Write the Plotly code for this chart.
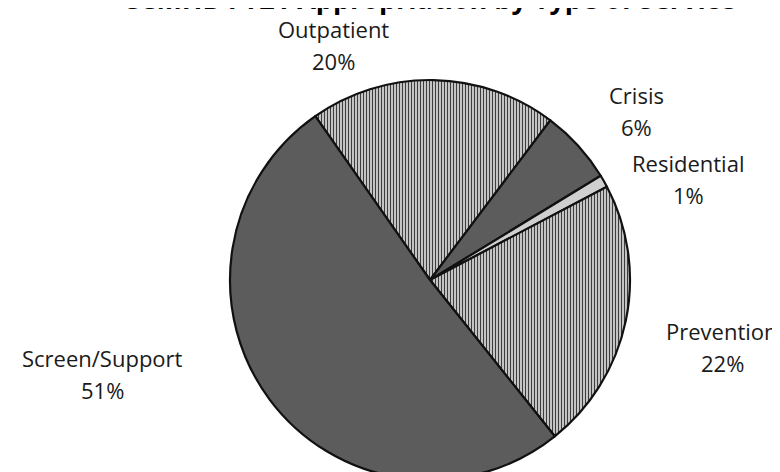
import plotly.graph_objects as go

labels = ["Outpatient", "Crisis", "Residential", "Prevention", "Screen/Support"]
values = [20, 6, 1, 22, 51]
pct_text = ["20%", "6%", "1%", "22%", "51%"]
title_text = "CCMHB FY21 Appropriation by Type of Service"

fill_colors = ["#c0c0c0", "#5c5c5c", "#cfcfcf", "#c0c0c0", "#5c5c5c"]
pattern_shapes = ["|", "", "", "|", ""]

W, H = 780, 472
cx, cy, r = 422, 272, 200

fig = go.Figure(go.Pie(
    labels=labels,
    values=values,
    sort=False,
    direction="clockwise",
    rotation=-35,
    textinfo="none",
    hoverinfo="label+percent",
    showlegend=False,
    marker=dict(
        colors=fill_colors,
        line=dict(color="#111111", width=2.2),
        pattern=dict(shape=pattern_shapes, fgcolor="#2e2e2e", bgcolor="#c4c4c4",
                     size=3, solidity=0.3),
    ),
    domain=dict(x=[(cx - r) / W, (cx + r) / W],
                y=[max(0.0, (H - cy - r) / H), min(1.0, (H - cy + r) / H)]),
))

# label block centres (pixels in the reference); two lines 32 px apart
label_pos = [(325, 37), (628, 103), (680, 171), (714, 339), (94, 366)]
font = dict(family="Open Sans, Noto Sans, sans-serif", size=22, color="#1a1a1a")
for lab, pt, (px, py) in zip(labels, pct_text, label_pos):
    for txt, dy in ((lab, -16), (pt, 16)):
        fig.add_annotation(
            text=txt, x=px / W, y=1 - (py + dy) / H, xref="paper", yref="paper",
            xanchor="center", yanchor="middle", showarrow=False, font=font,
            align="center", borderpad=0,
        )

fig.add_annotation(
    text=f"<b>{title_text}</b>", x=421 / W, y=1.0, xref="paper", yref="paper",
    xanchor="center", yanchor="middle", yshift=10, showarrow=False, borderpad=0,
    font=dict(family="Open Sans, Noto Sans, sans-serif", size=27, color="#000000"),
)

fig.update_layout(
    width=W, height=H,
    margin=dict(l=0, r=0, t=0, b=0),
    paper_bgcolor="white", plot_bgcolor="white",
)

fig.write_html("out.html")
